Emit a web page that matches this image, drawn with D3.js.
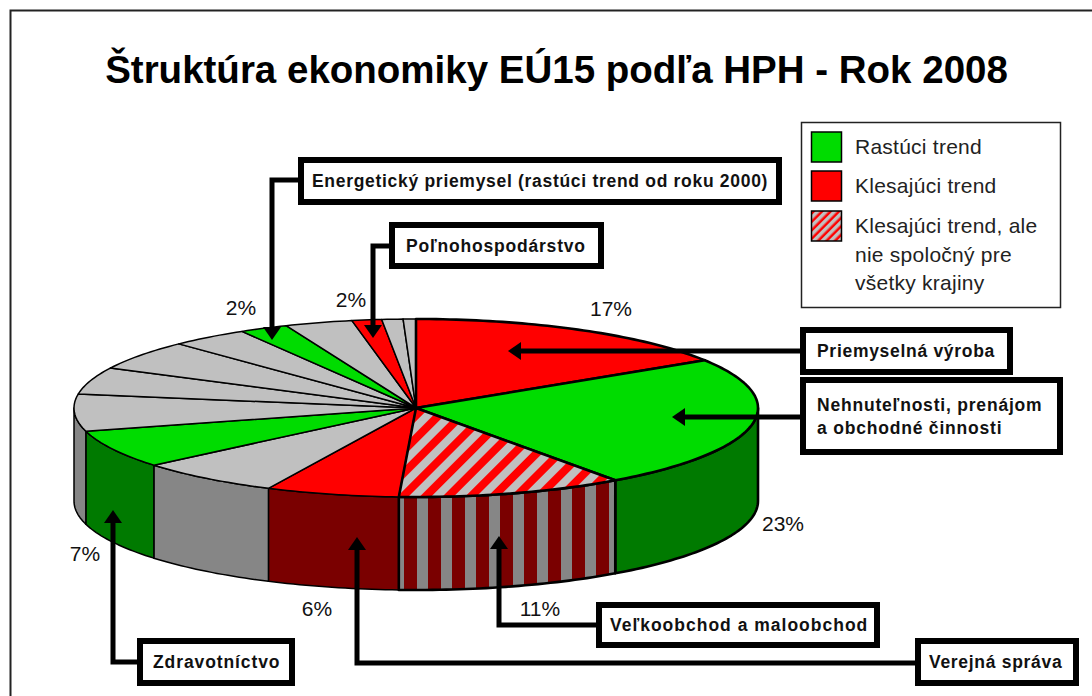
<!DOCTYPE html>
<html>
<head>
<meta charset="utf-8">
<script src="https://cdn.jsdelivr.net/npm/d3@7"></script>
<style>
    html, body { margin: 0; padding: 0; background: #fff; overflow: hidden; }
    svg { display: block; font-family: "Liberation Sans", Arial, sans-serif; }
</style>
</head>
<body>
<svg id="chart" width="1092" height="696"></svg>
<script>
// slices clockwise from 12 o'clock
const shareValues = [16.0, 24.1, 10.7, 6.3, 6.8, 6.9, 6.7, 4.9, 5.4, 3.7, 2.3, 3.2, 1.4, 1.0, 0.6];
const shareTrends = ['down', 'up', 'mixed', 'down', 'none', 'up', 'none', 'none', 'none', 'none', 'up', 'none', 'down', 'none', 'none'];
const shareLabels = ['17%', '23%', '11%', '6%', '', '7%', '', '', '', '', '2%', '', '2%', '', ''];
const legendLabels = [['Rastúci trend'], ['Klesajúci trend'], ['Klesajúci trend, ale', 'nie spoločný pre', 'všetky krajiny']];
const legendTrends = ['up', 'down', 'mixed'];
const calloutLabels = [
    ['Energetický priemysel (rastúci trend od roku 2000)'],
    ['Poľnohospodárstvo'],
    ['Priemyselná výroba'],
    ['Nehnuteľnosti, prenájom', 'a obchodné činnosti'],
    ['Veľkoobchod a maloobchod'],
    ['Verejná správa'],
    ['Zdravotníctvo']
];
const titleText = 'Štruktúra ekonomiky EÚ15 podľa HPH - Rok 2008';

let svg = d3.select('#chart');

// hatch patterns
let defs = svg.append('defs');
let topHatch = defs.append('pattern').attr('id', 'hatchTop')
    .attr('patternUnits', 'userSpaceOnUse')
    .attr('width', 16).attr('height', 16)
    .attr('patternTransform', 'rotate(45)');
topHatch.append('rect').attr('width', 16).attr('height', 16).attr('fill', '#ff0000');
topHatch.append('rect').attr('width', 8).attr('height', 16).attr('fill', '#c0c0c0');

let sideHatch = defs.append('pattern').attr('id', 'hatchSide')
    .attr('patternUnits', 'userSpaceOnUse')
    .attr('x', 393).attr('width', 24).attr('height', 16);
sideHatch.append('rect').attr('width', 24).attr('height', 16).attr('fill', '#7a0000');
sideHatch.append('rect').attr('width', 11).attr('height', 16).attr('fill', '#868686');

let legendHatch = defs.append('pattern').attr('id', 'hatchLegend')
    .attr('patternUnits', 'userSpaceOnUse')
    .attr('width', 6).attr('height', 6)
    .attr('patternTransform', 'rotate(45)');
legendHatch.append('rect').attr('width', 6).attr('height', 6).attr('fill', '#ff0000');
legendHatch.append('rect').attr('width', 3.5).attr('height', 6).attr('fill', '#c0c0c0');

const topFill = {up: '#00dc00', down: '#ff0000', mixed: 'url(#hatchTop)', none: '#c0c0c0'};
const sideFill = {up: '#007a00', down: '#7a0000', mixed: 'url(#hatchSide)', none: '#868686'};
const legendFill = {up: '#00dc00', down: '#ff0000', mixed: 'url(#hatchLegend)'};

// frame, runs off the right and bottom of the page
svg.append('rect')
    .attr('x', 10.5).attr('y', 10.5)
    .attr('width', 1200).attr('height', 800)
    .attr('fill', '#fff').attr('stroke', '#222').attr('stroke-width', 2);

svg.append('text')
    .attr('x', 556.5).attr('y', 83)
    .attr('text-anchor', 'middle')
    .attr('font-size', 38.5).attr('font-weight', 'bold')
    .text(titleText);

// pie geometry
const cx = 416, cy = 408, rx = 342, ry = 89, depth = 93;
let pie = d3.pie().sort(null).value(function(d) { return d; });
let arcs = pie(shareValues);
arcs.forEach(function(d, i) { d.trend = shareTrends[i]; d.heavy = i < 3; });

let xAt = function(a) { return cx + rx * Math.sin(a); };
let yAt = function(a) { return cy - ry * Math.cos(a); };
let rim = function(a0, a1) {
    let n = Math.max(2, Math.ceil((a1 - a0) / 0.02));
    return d3.range(n + 1).map(function(k) {
        let a = a0 + (a1 - a0) * k / n;
        return [xAt(a), yAt(a)];
    });
};
let line = d3.line();

let sideLayer = svg.append('g');
let topLayer = svg.append('g');

// only the front half of the rim shows a wall
let walls = arcs.filter(function(d) { return d.endAngle > Math.PI / 2 && d.startAngle < 1.5 * Math.PI; });
walls.sort(function(a, b) { return d3.ascending(a.heavy, b.heavy); });
sideLayer.selectAll('path')
    .data(walls)
    .enter().append('path')
    .attr('d', function(d) {
        let pts = rim(Math.max(d.startAngle, Math.PI / 2), Math.min(d.endAngle, 1.5 * Math.PI));
        let low = pts.map(function(p) { return [p[0], p[1] + depth]; }).reverse();
        return line(pts.concat(low)) + 'Z';
    })
    .attr('fill', function(d) { return sideFill[d.trend]; })
    .attr('stroke', '#000')
    .attr('stroke-linejoin', 'round')
    .attr('stroke-width', function(d) { return d.heavy ? 2.6 : 1.5; });

let wedges = arcs.slice().sort(function(a, b) { return d3.ascending(a.heavy, b.heavy); });
topLayer.selectAll('path')
    .data(wedges)
    .enter().append('path')
    .attr('d', function(d) { return line([[cx, cy]].concat(rim(d.startAngle, d.endAngle))) + 'Z'; })
    .attr('fill', function(d) { return topFill[d.trend]; })
    .attr('stroke', '#000')
    .attr('stroke-linejoin', 'round')
    .attr('stroke-width', function(d) { return d.heavy ? 2.6 : 1.5; });

// percentage labels, same order as the slices that carry one
const percentSpots = [[611, 308], [783, 523], [540, 608], [317, 608], [85, 553], [241, 307], [351, 299]];
let labelled = shareLabels.filter(function(d) { return d !== ''; });
svg.append('g').selectAll('text')
    .data(labelled)
    .enter().append('text')
    .attr('x', function(d, i) { return percentSpots[i][0]; })
    .attr('y', function(d, i) { return percentSpots[i][1]; })
    .attr('dy', '0.36em')
    .attr('text-anchor', 'middle')
    .attr('font-size', 21)
    .attr('fill', '#111')
    .text(function(d) { return d; });

// callouts: box, then the elbow running to the arrow tip
const calloutBoxes = [
    {x: 298, y: 157, w: 484, h: 48, pad: 14, gap: 0.7, path: [[301, 180], [272, 180], [272, 340]]},
    {x: 389, y: 222, w: 215, h: 47, pad: 17, gap: 0.8, path: [[391, 246], [373, 246], [373, 338]]},
    {x: 800, y: 327, w: 213, h: 48, pad: 17, gap: 0.7, path: [[803, 351], [508, 351]]},
    {x: 800, y: 377, w: 263, h: 78, pad: 17, gap: 0.8, path: [[803, 417], [672, 417]]},
    {x: 596, y: 602, w: 284, h: 46, pad: 14, gap: 1.0, path: [[599, 625], [499, 625], [499, 536]]},
    {x: 915, y: 638, w: 164, h: 48, pad: 14, gap: 0.7, path: [[918, 663], [357, 663], [357, 537]]},
    {x: 137, y: 638, w: 158, h: 48, pad: 16, gap: 0.9, path: [[140, 662], [113, 662], [113, 510]]}
];

let arrowAt = function(p, q, size, half) {
    let ux = q[0] - p[0], uy = q[1] - p[1];
    let len = Math.hypot(ux, uy);
    ux /= len; uy /= len;
    return line([
        q,
        [q[0] - ux * size - uy * half, q[1] - uy * size + ux * half],
        [q[0] - ux * size + uy * half, q[1] - uy * size - ux * half]
    ]) + 'Z';
};

let callouts = svg.append('g').selectAll('g')
    .data(calloutBoxes)
    .enter().append('g');

callouts.append('path')
    .attr('d', function(d) {
        let n = d.path.length;
        let stop = [d.path[n - 1][0], d.path[n - 1][1]];
        let prev = d.path[n - 2];
        // stop the line short so its square end stays inside the head
        let ux = Math.sign(stop[0] - prev[0]), uy = Math.sign(stop[1] - prev[1]);
        stop = [stop[0] - ux * 8, stop[1] - uy * 8];
        return line(d.path.slice(0, n - 1).concat([stop]));
    })
    .attr('fill', 'none').attr('stroke', '#000').attr('stroke-width', 5);
callouts.append('path')
    .attr('d', function(d) {
        let n = d.path.length;
        return arrowAt(d.path[n - 2], d.path[n - 1], 13, 9);
    })
    .attr('fill', '#000');
callouts.append('rect')
    .attr('x', function(d) { return d.x + 3; })
    .attr('y', function(d) { return d.y + 3; })
    .attr('width', function(d) { return d.w - 6; })
    .attr('height', function(d) { return d.h - 6; })
    .attr('fill', '#fff').attr('stroke', '#000').attr('stroke-width', 6);
callouts.each(function(d, i) {
    let lines = calloutLabels[i];
    let g = d3.select(this);
    lines.forEach(function(t, k) {
        g.append('text')
            .attr('x', d.x + d.pad)
            .attr('y', d.y + d.h / 2 + (k - (lines.length - 1) / 2) * 23)
            .attr('dy', '0.36em')
            .attr('font-size', 17.5).attr('font-weight', 'bold')
            .attr('letter-spacing', d.gap)
            .attr('fill', '#111')
            .text(t);
    });
});

// legend
let legend = svg.append('g');
legend.append('rect')
    .attr('x', 801.5).attr('y', 122.5)
    .attr('width', 259).attr('height', 185)
    .attr('fill', '#fff').attr('stroke', '#222').attr('stroke-width', 1.5);

const legendRows = [147, 186, 226];
const legendLineStep = 28.5;
let rows = legend.selectAll('g.row')
    .data(legendTrends)
    .enter().append('g').attr('class', 'row');
rows.append('rect')
    .attr('x', 811.5)
    .attr('y', function(d, i) { return legendRows[i] - 15; })
    .attr('width', 30).attr('height', 30)
    .attr('fill', function(d) { return legendFill[d]; })
    .attr('stroke', '#000').attr('stroke-width', 1.5);
rows.each(function(d, i) {
    let g = d3.select(this);
    legendLabels[i].forEach(function(t, k) {
        g.append('text')
            .attr('x', 855)
            .attr('y', legendRows[i] + k * legendLineStep)
            .attr('dy', '0.34em')
            .attr('font-size', 21)
            .attr('letter-spacing', 0.25)
            .attr('fill', '#222')
            .text(t);
    });
});
</script>
</body>
</html>
